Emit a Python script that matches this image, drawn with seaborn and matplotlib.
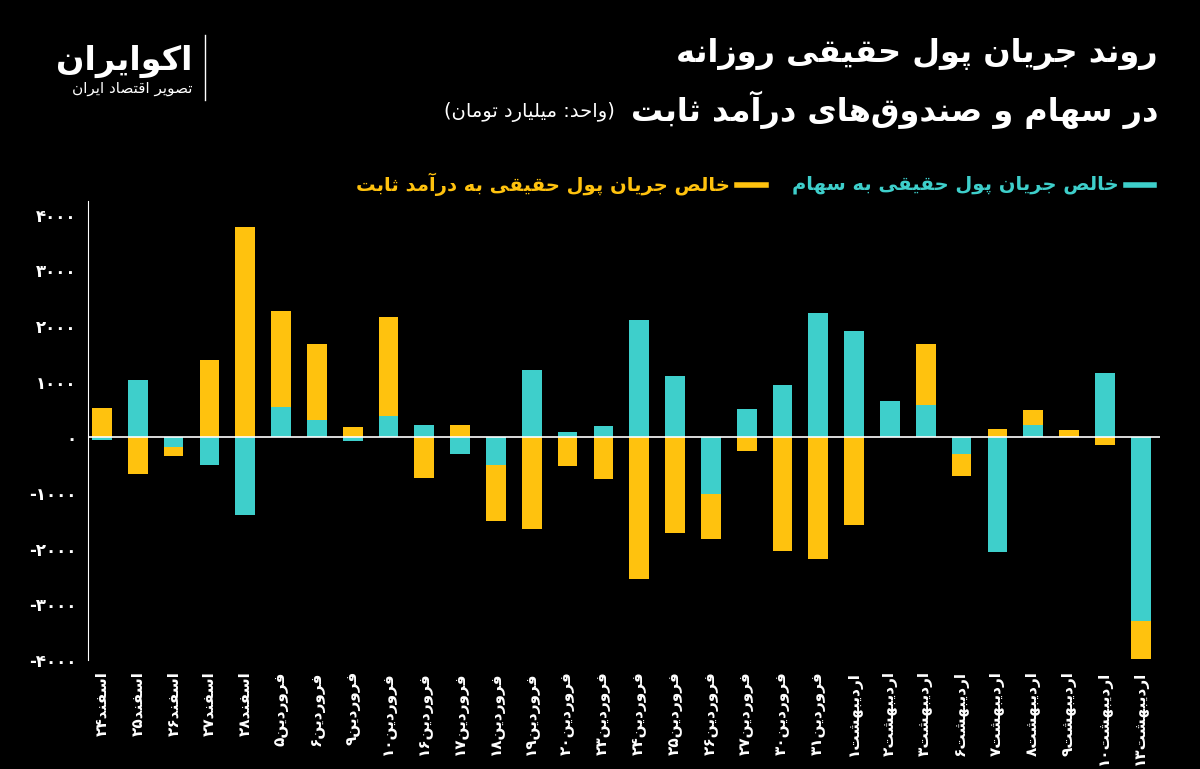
import matplotlib
matplotlib.use("Agg")
import matplotlib.pyplot as plt
import seaborn as sns
import pandas as pd
import numpy as np

categories = ["اسفند۲۴","اسفند۲۵","اسفند۲۶","اسفند۲۷","اسفند۲۸","فروردین۵","فروردین۶","فروردین۹",
              "فروردین۱۰","فروردین۱۶","فروردین۱۷","فروردین۱۸","فروردین۱۹","فروردین۲۰","فروردین۲۳",
              "فروردین۲۴","فروردین۲۵","فروردین۲۶","فروردین۲۷","فروردین۳۰","فروردین۳۱","اردیبهشت۱",
              "اردیبهشت۲","اردیبهشت۳","اردیبهشت۶","اردیبهشت۷","اردیبهشت۸","اردیبهشت۹","اردیبهشت۱۰",
              "اردیبهشت۱۳"]
stocks = [-50, 1040, -170, -490, -1390, 540, 320, -60, 380, 230, -290, -490, 1220, 90, 200,
          2110, 1100, -1010, 520, 950, 2230, 1910, 650, 580, -290, -2050, 220, 0, 1150, -3300]
fixed = [530, -660, -170, 1390, 3780, 1730, 1360, 180, 1780, -720, 220, -1020, -1640, -520, -740,
         -2540, -1710, -810, -250, -2040, -2180, -1570, 0, 1100, -410, 160, 280, 130, -130, -680]
yticks = [-4000, -3000, -2000, -1000, 0, 1000, 2000, 3000, 4000]

title1 = "روند جریان پول حقیقی روزانه"
title2 = "در سهام و صندوق‌های درآمد ثابت"
unit = "(واحد: میلیارد تومان)"
leg_stock = "خالص جریان پول حقیقی به سهام"
leg_fixed = "خالص جریان پول حقیقی به درآمد ثابت"

# ---- minimal Persian shaper ----
F = {
 'ا':(0xFE8D,0xFE8E,None,None),'آ':(0xFE81,0xFE82,None,None),
 'ب':(0xFE8F,0xFE90,0xFE91,0xFE92),'پ':(0xFB56,0xFB57,0xFB58,0xFB59),
 'ت':(0xFE95,0xFE96,0xFE97,0xFE98),'ث':(0xFE99,0xFE9A,0xFE9B,0xFE9C),
 'ج':(0xFE9D,0xFE9E,0xFE9F,0xFEA0),'چ':(0xFB7A,0xFB7B,0xFB7C,0xFB7D),
 'ح':(0xFEA1,0xFEA2,0xFEA3,0xFEA4),'خ':(0xFEA5,0xFEA6,0xFEA7,0xFEA8),
 'د':(0xFEA9,0xFEAA,None,None),'ذ':(0xFEAB,0xFEAC,None,None),
 'ر':(0xFEAD,0xFEAE,None,None),'ز':(0xFEAF,0xFEB0,None,None),'ژ':(0xFB8A,0xFB8B,None,None),
 'س':(0xFEB1,0xFEB2,0xFEB3,0xFEB4),'ش':(0xFEB5,0xFEB6,0xFEB7,0xFEB8),
 'ص':(0xFEB9,0xFEBA,0xFEBB,0xFEBC),'ض':(0xFEBD,0xFEBE,0xFEBF,0xFEC0),
 'ط':(0xFEC1,0xFEC2,0xFEC3,0xFEC4),'ظ':(0xFEC5,0xFEC6,0xFEC7,0xFEC8),
 'ع':(0xFEC9,0xFECA,0xFECB,0xFECC),'غ':(0xFECD,0xFECE,0xFECF,0xFED0),
 'ف':(0xFED1,0xFED2,0xFED3,0xFED4),'ق':(0xFED5,0xFED6,0xFED7,0xFED8),
 'ک':(0xFB8E,0xFB8F,0xFB90,0xFB91),'گ':(0xFB92,0xFB93,0xFB94,0xFB95),
 'ل':(0xFEDD,0xFEDE,0xFEDF,0xFEE0),'م':(0xFEE1,0xFEE2,0xFEE3,0xFEE4),
 'ن':(0xFEE5,0xFEE6,0xFEE7,0xFEE8),'و':(0xFEED,0xFEEE,None,None),
 'ه':(0xFEE9,0xFEEA,0xFEEB,0xFEEC),'ی':(0xFBFC,0xFBFD,0xFBFE,0xFBFF),
}
def shape(s):
    out = []
    n = len(s)
    for i, c in enumerate(s):
        if c == '\u200c':
            continue
        if c not in F:
            out.append(c); continue
        prev = s[i-1] if i > 0 else None
        nxt = s[i+1] if i+1 < n else None
        jp = prev in F and F[prev][2] is not None
        jn = nxt in F and F[c][2] is not None
        iso, fin, ini, med = F[c]
        if jp and jn: out.append(chr(med))
        elif jp: out.append(chr(fin))
        elif jn: out.append(chr(ini))
        else: out.append(chr(iso))
    vis = ''.join(out)[::-1]
    mirror = {'(':')',')':'('}
    vis = ''.join(mirror.get(ch, ch) for ch in vis)
    res, run = [], []
    for ch in vis:
        if ch.isdigit():
            run.append(ch)
        else:
            res.extend(run[::-1]); run = []
            res.append(ch)
    res.extend(run[::-1])
    return ''.join(res)

def fa_num(v):
    d = str(abs(v)).translate(str.maketrans("0123456789", "۰۱۲۳۴۵۶۷۸۹"))
    return ("-" if v < 0 else "") + d

plt.rcParams["font.family"] = ["DejaVu Sans", "Noto Sans"]
CY = "#3ECFCB"
YE = "#FFC20E"

fig = plt.figure(figsize=(12, 7.69), dpi=100, facecolor="black")
ax = fig.add_axes([0.073, 0.1417, 0.894, 0.597])
ax.set_facecolor("black")

df = pd.DataFrame({"cat": categories, "stocks": stocks})
sns.barplot(data=df, x="cat", y="stocks", color=CY, saturation=1, width=0.55, ax=ax)
bottoms = [s if (s * f > 0) else 0 for s, f in zip(stocks, fixed)]
ax.bar(np.arange(len(categories)), fixed, bottom=bottoms, color=YE, width=0.55)

ax.axhline(0, color="white", lw=1.2)
ax.set_ylim(-4000, 4250)
ax.set_xlim(-0.4, 29.55)
ax.set_yticks(yticks)
ax.set_yticklabels([fa_num(v) for v in yticks], color="white", fontsize=12, fontweight="bold")
ax.set_xticks(range(len(categories)))
ax.set_xticklabels([shape(c) for c in categories], rotation=90, color="white", fontsize=11, fontweight="bold")
ax.set_xlabel(""); ax.set_ylabel("")
for s in ["top", "right", "bottom"]:
    ax.spines[s].set_visible(False)
ax.spines["left"].set_color("white")
ax.tick_params(colors="white", length=0, pad=8)

fig.text(0.965, 0.93, shape(title1), color="white", fontsize=23, fontweight="bold", ha="right", va="center")
fig.text(0.965, 0.857, shape(title2), color="white", fontsize=23, fontweight="bold", ha="right", va="center")
fig.text(0.512, 0.855, shape(unit), color="white", fontsize=14, ha="right", va="center")

# legend
fig.add_artist(plt.Line2D([0.938, 0.962], [0.76, 0.76], color=CY, lw=4, transform=fig.transFigure))
fig.text(0.932, 0.76, shape(leg_stock), color=CY, fontsize=14, fontweight="bold", ha="right", va="center")
fig.add_artist(plt.Line2D([0.614, 0.638], [0.76, 0.76], color=YE, lw=4, transform=fig.transFigure))
fig.text(0.608, 0.76, shape(leg_fixed), color=YE, fontsize=14, fontweight="bold", ha="right", va="center")

# logo text
fig.text(0.16, 0.92, shape("اکوایران"), color="white", fontsize=24, fontweight="bold", ha="right", va="center")
fig.text(0.16, 0.885, shape("تصویر اقتصاد ایران"), color="white", fontsize=11, ha="right", va="center")
fig.add_artist(plt.Line2D([0.171, 0.171], [0.87, 0.955], color="white", lw=1, transform=fig.transFigure))

fig.savefig("out.png", dpi=100, facecolor="black")
